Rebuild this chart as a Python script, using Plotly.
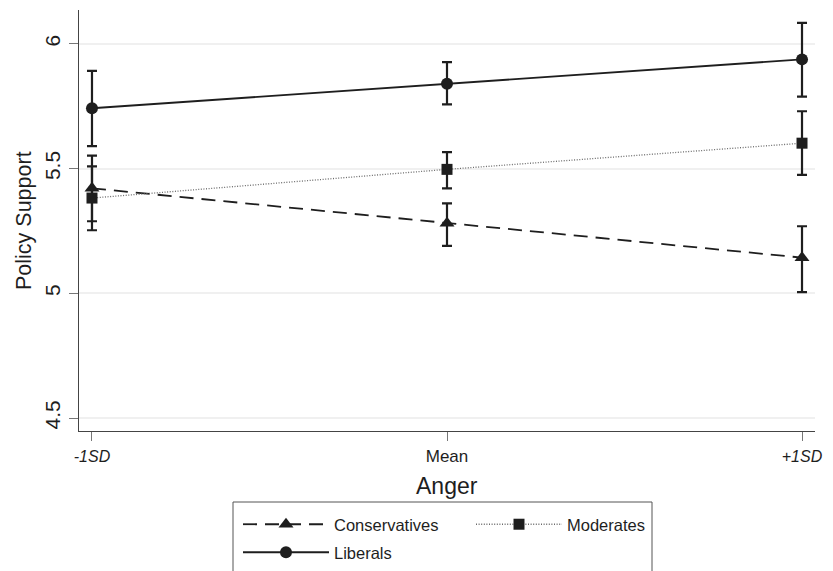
import plotly.graph_objects as go

# ---- data ----
categories = ["-1SD", "Mean", "+1SD"]
italic_labels = [True, False, True]

cons_mean = [5.421, 5.281, 5.143]
cons_lo = [5.289, 5.190, 5.005]
cons_hi = [5.552, 5.361, 5.269]

mod_mean = [5.382, 5.497, 5.602]
mod_lo = [5.253, 5.421, 5.475]
mod_hi = [5.509, 5.566, 5.730]

lib_mean = [5.742, 5.840, 5.938]
lib_lo = [5.590, 5.758, 5.789]
lib_hi = [5.892, 5.927, 6.084]

y_ticks = [4.5, 5, 5.5, 6]
y_ticklabels = ["4.5", "5", "5.5", "6"]

series_names = ["Conservatives", "Moderates", "Liberals"]

# ---- styling ----
INK = "#1e1e1e"
FONT = "Liberation Sans, Arial, Helvetica, sans-serif"
W, H = 833, 571
ML, MR, MT, MB = 79, 18, 10, 140
plot_w = W - ML - MR
plot_h = H - MT - MB


def px_x(px):
    return (px - ML) / plot_w


def px_y(py):
    return (MT + plot_h - py) / plot_h


def err(mean, lo, hi):
    return dict(type="data", symmetric=False,
                array=[h - m for m, h in zip(mean, hi)],
                arrayminus=[m - l for m, l in zip(mean, lo)],
                color=INK, thickness=2.2, width=5)


fig = go.Figure()

series = [
    (series_names[0], cons_mean, cons_lo, cons_hi, "triangle-up", 13,
     dict(color=INK, width=1.8, dash="14px,8px"), "legend"),
    (series_names[1], mod_mean, mod_lo, mod_hi, "square", 11,
     dict(color="#6a6a6a", width=1.3, dash="1px,1.6px"), "legend"),
    (series_names[2], lib_mean, lib_lo, lib_hi, "circle", 12,
     dict(color=INK, width=1.8), "legend2"),
]

for name, m, lo, hi, sym, size, line, lg in series:
    fig.add_trace(go.Scatter(
        x=categories, y=m, name=name, mode="lines+markers",
        line=line, legend=lg,
        marker=dict(symbol=sym, size=size, color=INK, line=dict(width=0)),
        error_y=err(m, lo, hi),
    ))

ticktext = [
    f'<span style="font-size:16px"><i>{c}</i></span>' if it else c
    for c, it in zip(categories, italic_labels)
]

legend_common = dict(
    orientation="h", xanchor="left", yanchor="top",
    bgcolor="rgba(0,0,0,0)", borderwidth=0,
    font=dict(size=16.5, family=FONT, color=INK),
    itemwidth=86, entrywidth=132, entrywidthmode="pixels",
    traceorder="normal",
)

fig.update_layout(
    width=W, height=H,
    margin=dict(l=ML, r=MR, t=MT, b=MB, autoexpand=False),
    paper_bgcolor="white", plot_bgcolor="white",
    font=dict(family=FONT, color=INK),
    showlegend=True,
    legend=dict(x=px_x(238), y=px_y(507), **legend_common),
    legend2=dict(x=px_x(238), y=px_y(535), **legend_common),
    xaxis=dict(
        type="category", range=[-0.0366, 2.0366],
        tickmode="array", tickvals=categories, ticktext=ticktext,
        ticks="outside", ticklen=9, tickwidth=1, tickcolor="#777",
        showline=True, linecolor="#444", linewidth=1.2,
        showgrid=False, zeroline=False,
        tickfont=dict(size=17, family=FONT, color=INK),
    ),
    yaxis=dict(
        range=[4.448, 6.136],
        tickmode="array", tickvals=y_ticks, ticktext=y_ticklabels,
        tickangle=-90,
        ticks="outside", ticklen=9, tickwidth=1, tickcolor="#777",
        showline=True, linecolor="#444", linewidth=1.2,
        showgrid=True, gridcolor="#f0f0f0", gridwidth=1.5,
        zeroline=False,
        tickfont=dict(size=21, family=FONT, color=INK),
        ticklabelstandoff=1,
    ),
    shapes=[
        dict(type="rect", xref="paper", yref="paper",
             x0=px_x(233), x1=px_x(652), y0=px_y(502), y1=px_y(600),
             line=dict(color="#555", width=1), fillcolor="rgba(0,0,0,0)",
             layer="below"),
    ],
    annotations=[
        dict(text="Policy Support", xref="paper", yref="paper",
             x=px_x(23.5), y=0.5, textangle=-90,
             xanchor="center", yanchor="middle", showarrow=False,
             font=dict(size=21.5, family=FONT, color=INK)),
        dict(text="Anger", xref="paper", yref="paper",
             x=px_x(446.5), y=px_y(486),
             xanchor="center", yanchor="middle", showarrow=False,
             font=dict(size=23, family=FONT, color=INK)),
    ],
)

fig.write_html(
    "out.html",
    config={"displayModeBar": False},
    post_script="document.body.style.margin='0';document.body.style.overflow='hidden';",
)
